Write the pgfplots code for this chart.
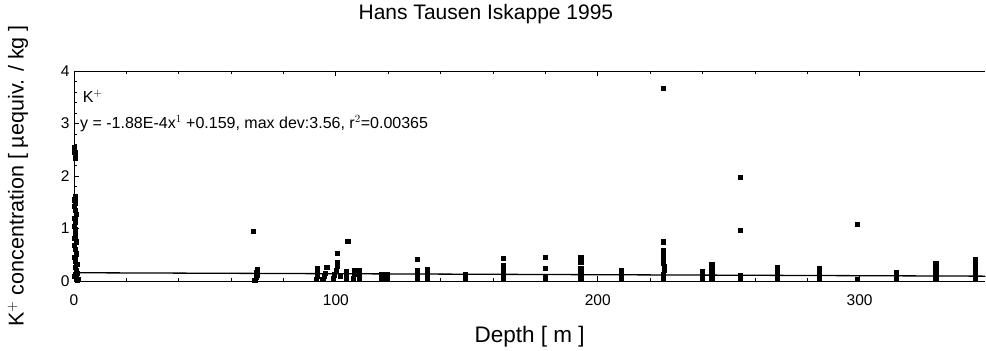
\documentclass[border=0pt]{standalone}
\usepackage{pgfplots}
\pgfplotsset{compat=1.18}
\usepackage{fontspec}
\setmainfont{Liberation Sans}
\begin{document}
\begin{tikzpicture}
\begin{axis}[
  scale only axis,
  width=911pt, height=210pt,
  xmin=0, xmax=348, ymin=0, ymax=4,
  axis x line*=box, axis y line*=left,
  x axis line style={-}, y axis line style={-},
  xtick={0,100,200,300}, ytick={0,1,2,3,4},
  minor x tick num=4, minor y tick num=4,
  tick align=inside,
  major tick length=5pt, minor tick length=3pt,
  tick style={black, line width=0.8pt},
  every axis line/.append style={line width=0.9pt},
  /pgf/number format/assume math mode=true,
  ticklabel style={font=\fontsize{15.5}{17}\selectfont},
  xticklabel style={yshift=-10pt},
  yticklabel style={xshift=-1pt},
  xlabel={Depth [ m ]},
  ylabel={K$^+$ concentration [ µequiv. / kg ]},
  xlabel style={at={(axis description cs:0.5,-0.267)}, anchor=center, font=\fontsize{22.5}{24}\selectfont},
  ylabel style={at={(axis description cs:-0.0615,0.5)}, anchor=center, font=\fontsize{21.5}{23}\selectfont},
  title={Hans Tausen Iskappe 1995},
  title style={at={(axis description cs:0.452,1.243)}, anchor=center, font=\fontsize{21}{23}\selectfont},
  clip=false,
]
\addplot[only marks, mark=square*, mark size=2.1pt, black] coordinates {
(0.2,2.55) (0.3,2.45) (0.4,2.35) (0.5,1.62) (0.3,1.55) (0.6,1.48) (0.2,1.42) (0.4,1.35)
(0.7,1.28) (0.3,1.2) (0.5,1.12) (0.2,1.05) (0.6,0.98) (0.4,0.9) (0.3,0.82) (0.8,0.75)
(0.2,0.68) (0.5,0.6) (0.9,0.52) (0.3,0.45) (0.6,0.38) (1.0,0.32) (0.4,0.26) (0.7,0.2)
(1.2,0.15) (0.3,0.1) (0.8,0.06) (1.1,0.02) (0.5,0.13) (0.9,0.08) (1.4,0.04)
(68.5,0.95) (69,0.02) (69.5,0.07) (70,0.12) (69.5,0.17) (70,0.22)
(92.5,0.03) (93,0.1) (93,0.17) (93,0.24) (95,0.04) (95.5,0.1) (96.5,0.27) (96,0.15)
(99,0.05) (99.5,0.12) (100,0.2) (100.5,0.28) (100.5,0.36) (100.5,0.53) (101.5,0.1)
(104.5,0.76) (104,0.05) (104,0.12) (104,0.19) (106.5,0.05) (107,0.13) (107,0.2) (109,0.06) (109,0.14) (109,0.2)
(117.5,0.04) (117.5,0.12) (119.5,0.05) (119.5,0.13)
(131,0.42) (131,0.05) (131,0.12) (131,0.2) (135,0.06) (135,0.14) (135,0.22)
(149.5,0.05) (149.5,0.13)
(164,0.44) (164,0.3) (164,0.24) (164,0.05) (164,0.14) (164,0.19)
(180,0.46) (180,0.25) (180,0.05) (180,0.1)
(193.5,0.46) (193.5,0.36) (193.5,0.24) (193.5,0.05) (193.5,0.14)
(209,0.05) (209,0.12) (209,0.2)
(225,3.68) (225,0.75) (225,0.58) (225,0.5) (225,0.42) (225,0.35) (225.5,0.28) (225.5,0.2) (225,0.12) (225,0.04)
(240,0.05) (240,0.12) (240,0.18) (243.5,0.05) (243.5,0.15) (243.5,0.25) (243.5,0.31)
(254.5,1.98) (254.5,0.97) (254.5,0.05) (254.5,0.11)
(268.5,0.05) (268.5,0.13) (268.5,0.2) (268.5,0.27)
(284.5,0.25) (284.5,0.18) (284.5,0.05) (284.5,0.1)
(299,1.08) (299,0.04)
(314,0.17) (314,0.05) (314,0.1)
(329,0.33) (329,0.24) (329,0.05) (329,0.14)
(344,0.42) (344,0.33) (344,0.25) (344,0.05) (344,0.15)
};
\addplot[black, line width=1.3pt] coordinates {(0,0.159) (348,0.0936)};
\node[anchor=west, font=\fontsize{16}{18}\selectfont] at (axis cs:2,3.52) {K$^+$};
\node[anchor=west, font=\fontsize{16}{18}\selectfont] at (axis cs:1,3.0) {y = -1.88E-4x$^1$ +0.159, max dev:3.56, r$^2$=0.00365};
\path[draw=none] (axis description cs:-0.0812,1.338) rectangle (axis description cs:1,-0.3286);
\end{axis}
\end{tikzpicture}
\end{document}
